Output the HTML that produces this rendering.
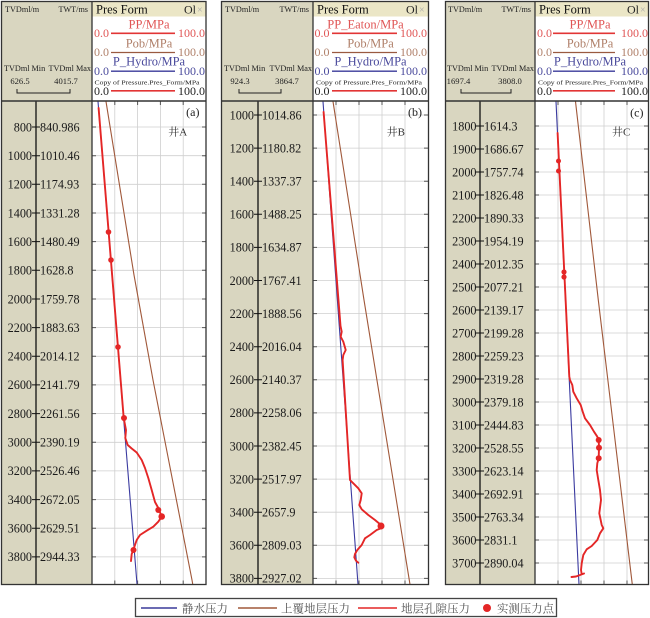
<!DOCTYPE html>
<html>
<head>
<meta charset="utf-8">
<style>
html,body{margin:0;padding:0;background:#fff;}
svg{display:block;}
.s{font-family:"Liberation Serif","Noto Serif CJK SC",serif;}
</style>
</head>
<body>
<svg width="650" height="618" viewBox="0 0 650 618" xmlns="http://www.w3.org/2000/svg" class="s">
<rect x="0" y="0" width="650" height="618" fill="#fff"/>

<!-- khaki left columns -->
<rect x="1.5" y="1.5" width="90.5" height="583" fill="#d9d6c0"/>
<rect x="221.5" y="1.5" width="91.5" height="583" fill="#d9d6c0"/>
<rect x="445.5" y="1.5" width="89.5" height="583" fill="#d9d6c0"/>

<!-- header strips -->
<rect x="92" y="1.5" width="114" height="15" fill="#ebe6c6"/>
<rect x="313" y="1.5" width="115" height="15" fill="#ebe6c6"/>
<rect x="535" y="1.5" width="113.5" height="15" fill="#ebe6c6"/>

<!-- ===== GRIDS ===== -->
<g stroke="#cfcfcf" stroke-width="0.8" fill="none">
<path d="M92,127H206M92,155.7H206M92,184.3H206M92,213H206M92,241.6H206M92,270.3H206M92,299H206M92,327.6H206M92,356.3H206M92,384.9H206M92,413.6H206M92,442.3H206M92,470.9H206M92,499.6H206M92,528.2H206M92,556.9H206"/>
<path d="M114.8,101V584.5M137.6,101V584.5M160.4,101V584.5M183.2,101V584.5"/>
<path d="M313,115H428M313,148.1H428M313,181.2H428M313,214.3H428M313,247.4H428M313,280.5H428M313,313.6H428M313,346.7H428M313,379.8H428M313,412.9H428M313,446H428M313,479.1H428M313,512.2H428M313,545.3H428M313,578.4H428"/>
<path d="M336,101V584.5M359,101V584.5M382,101V584.5M405,101V584.5"/>
<path d="M535,126H648M535,149H648M535,172H648M535,195H648M535,218H648M535,241H648M535,264H648M535,287H648M535,310H648M535,333H648M535,356H648M535,379H648M535,402H648M535,425H648M535,448H648M535,471H648M535,494H648M535,517H648M535,540H648M535,563H648"/>
<path d="M558,101V584.5M581,101V584.5M604,101V584.5M627,101V584.5"/>
</g>

<!-- plot edge ticks -->
<g stroke="#555" stroke-width="1" fill="none">
<path d="M92,127h4M92,155.7h4M92,184.3h4M92,213h4M92,241.6h4M92,270.3h4M92,299h4M92,327.6h4M92,356.3h4M92,384.9h4M92,413.6h4M92,442.3h4M92,470.9h4M92,499.6h4M92,528.2h4M92,556.9h4"/>
<path d="M206,127h-4M206,155.7h-4M206,184.3h-4M206,213h-4M206,241.6h-4M206,270.3h-4M206,299h-4M206,327.6h-4M206,356.3h-4M206,384.9h-4M206,413.6h-4M206,442.3h-4M206,470.9h-4M206,499.6h-4M206,528.2h-4M206,556.9h-4"/>
<path d="M114.8,101v4M137.6,101v4M160.4,101v4M183.2,101v4M114.8,584.5v-4M137.6,584.5v-4M160.4,584.5v-4M183.2,584.5v-4"/>
<path d="M313,115h4M313,148.1h4M313,181.2h4M313,214.3h4M313,247.4h4M313,280.5h4M313,313.6h4M313,346.7h4M313,379.8h4M313,412.9h4M313,446h4M313,479.1h4M313,512.2h4M313,545.3h4M313,578.4h4"/>
<path d="M428,115h-4M428,148.1h-4M428,181.2h-4M428,214.3h-4M428,247.4h-4M428,280.5h-4M428,313.6h-4M428,346.7h-4M428,379.8h-4M428,412.9h-4M428,446h-4M428,479.1h-4M428,512.2h-4M428,545.3h-4M428,578.4h-4"/>
<path d="M336,101v4M359,101v4M382,101v4M405,101v4M336,584.5v-4M359,584.5v-4M382,584.5v-4M405,584.5v-4"/>
<path d="M535,126h4M535,149h4M535,172h4M535,195h4M535,218h4M535,241h4M535,264h4M535,287h4M535,310h4M535,333h4M535,356h4M535,379h4M535,402h4M535,425h4M535,448h4M535,471h4M535,494h4M535,517h4M535,540h4M535,563h4"/>
<path d="M648,126h-4M648,149h-4M648,172h-4M648,195h-4M648,218h-4M648,241h-4M648,264h-4M648,287h-4M648,310h-4M648,333h-4M648,356h-4M648,379h-4M648,402h-4M648,425h-4M648,448h-4M648,471h-4M648,494h-4M648,517h-4M648,540h-4M648,563h-4"/>
<path d="M558,101v4M581,101v4M604,101v4M627,101v4M558,584.5v-4M581,584.5v-4M604,584.5v-4M627,584.5v-4"/>
</g>

<!-- ===== CURVES ===== -->
<g fill="none" stroke-linejoin="round" stroke-linecap="round">
<!-- A -->
<path d="M98,101.5L137,584" stroke="#3a3aa0" stroke-width="1.1"/>
<path d="M106,101.5L134,275L153,380L192,580L192.7,584" stroke="#a0583a" stroke-width="1.1"/>
<path d="M98.6,108L123.7,418L126,430L125.3,438L127.7,445L131.7,448.5L136.7,452.5L141.7,460L145,468L148.3,478L151.7,490L155,502L158.3,508L161.7,516.7L158.3,521.7L153.3,526.7L146.7,530.7L140,535L136.7,540L135,545L133.3,550L131.7,554L131,561" stroke="#e42626" stroke-width="1.9"/>
<!-- B -->
<path d="M323,101.5L358,584.5" stroke="#3a3aa0" stroke-width="1.1"/>
<path d="M333,101.5L364,300L410,584.5" stroke="#a0583a" stroke-width="1.1"/>
<path d="M323.6,112L340.5,326L341.7,331.7L340.7,336.7L343.3,341.7L345.7,350L343.3,355L342.6,360L350,480L353.3,483.3L358.3,488.3L361.7,493.3L360.7,500L359.3,505L361.7,509.3L368.3,515L375,520L381,525L381,528.3L376.7,530L370,535L365,538.3L361.7,545L357.3,550L355,554L354.3,557.3L356,560.7L358.3,562.7" stroke="#e42626" stroke-width="1.9"/>
<!-- C -->
<path d="M556,101.5L579,584.5" stroke="#3a3aa0" stroke-width="1.1"/>
<path d="M575.5,101.5L598.3,300L632.3,584.5" stroke="#a0583a" stroke-width="1.1"/>
<path d="M557.6,133L569.3,376.7L570,380L572.3,385L573.3,391.7L576.7,398.3L580.7,405L582.7,411.7L585,418.3L590,425L594,431.7L597.3,436.7L598.7,440L599,447.7L598.7,458.3L597.3,463.3L596.7,470L598.3,480L600,490L601,500L599.3,513.3L601.7,525L603.3,528.3L600,533.3L597.3,540L591.7,546L586.7,549.3L583.3,555L581.7,563.3L581,570L581.7,574M584,573.5L576,576.5L571.5,577" stroke="#e42626" stroke-width="1.9"/>
</g>

<!-- dots -->
<g fill="#e42626">
<circle cx="108.5" cy="232" r="2.8"/>
<circle cx="111" cy="260" r="2.8"/>
<circle cx="118" cy="347" r="2.8"/>
<circle cx="124" cy="418" r="3"/>
<circle cx="158.3" cy="510" r="3"/>
<circle cx="161.7" cy="516.5" r="3.3"/>
<circle cx="133.5" cy="550" r="3"/>
<circle cx="381" cy="526" r="3.5"/>
<circle cx="558.5" cy="161" r="2.5"/>
<circle cx="558.5" cy="171" r="2.5"/>
<circle cx="564" cy="272" r="2.6"/>
<circle cx="564" cy="277" r="2.6"/>
<circle cx="598.7" cy="440" r="3"/>
<circle cx="599" cy="447.7" r="3"/>
<circle cx="598.7" cy="458.3" r="3"/>
</g>

<!-- panel labels -->
<g font-size="12" fill="#222">
<text x="199.5" y="116" text-anchor="end">(a)</text>
<text x="422" y="116" text-anchor="end">(b)</text>
<text x="643.5" y="116.5" text-anchor="end">(c)</text>
</g>
<g font-size="11" fill="#333">
<text x="168.3" y="135.5">井A</text>
<text x="386.7" y="135.5">井B</text>
<text x="612" y="135.5">井C</text>
</g>

<!-- ===== LEFT AXES ===== -->
<g stroke="#111" fill="none">
<path d="M36,101V584.5M258,101V584.5M480,101V584.5" stroke-width="1.3"/>
<path stroke-width="1" d="M32,127h8M32,155.7h8M32,184.3h8M32,213h8M32,241.6h8M32,270.3h8M32,299h8M32,327.6h8M32,356.3h8M32,384.9h8M32,413.6h8M32,442.3h8M32,470.9h8M32,499.6h8M32,528.2h8M32,556.9h8
M254,115h8M254,148.1h8M254,181.2h8M254,214.3h8M254,247.4h8M254,280.5h8M254,313.6h8M254,346.7h8M254,379.8h8M254,412.9h8M254,446h8M254,479.1h8M254,512.2h8M254,545.3h8M254,578.4h8
M476,126h8M476,149h8M476,172h8M476,195h8M476,218h8M476,241h8M476,264h8M476,287h8M476,310h8M476,333h8M476,356h8M476,379h8M476,402h8M476,425h8M476,448h8M476,471h8M476,494h8M476,517h8M476,540h8M476,563h8"/>
</g>

<g font-size="12.2" fill="#1a1a1a" text-anchor="end">
<text x="32" y="131.3">800</text>
<text x="32" y="160">1000</text>
<text x="32" y="188.6">1200</text>
<text x="32" y="217.3">1400</text>
<text x="32" y="245.9">1600</text>
<text x="32" y="274.6">1800</text>
<text x="32" y="303.3">2000</text>
<text x="32" y="331.9">2200</text>
<text x="32" y="360.6">2400</text>
<text x="32" y="389.2">2600</text>
<text x="32" y="417.9">2800</text>
<text x="32" y="446.6">3000</text>
<text x="32" y="475.2">3200</text>
<text x="32" y="503.9">3400</text>
<text x="32" y="532.5">3600</text>
<text x="32" y="561.2">3800</text>

<text x="254" y="119.3">1000</text>
<text x="254" y="152.4">1200</text>
<text x="254" y="185.5">1400</text>
<text x="254" y="218.6">1600</text>
<text x="254" y="251.7">1800</text>
<text x="254" y="284.8">2000</text>
<text x="254" y="317.9">2200</text>
<text x="254" y="351">2400</text>
<text x="254" y="384.1">2600</text>
<text x="254" y="417.2">2800</text>
<text x="254" y="450.3">3000</text>
<text x="254" y="483.4">3200</text>
<text x="254" y="516.5">3400</text>
<text x="254" y="549.6">3600</text>
<text x="254" y="582.7">3800</text>

<text x="476.5" y="130.3">1800</text>
<text x="476.5" y="153.3">1900</text>
<text x="476.5" y="176.3">2000</text>
<text x="476.5" y="199.3">2100</text>
<text x="476.5" y="222.3">2200</text>
<text x="476.5" y="245.3">2300</text>
<text x="476.5" y="268.3">2400</text>
<text x="476.5" y="291.3">2500</text>
<text x="476.5" y="314.3">2600</text>
<text x="476.5" y="337.3">2700</text>
<text x="476.5" y="360.3">2800</text>
<text x="476.5" y="383.3">2900</text>
<text x="476.5" y="406.3">3000</text>
<text x="476.5" y="429.3">3100</text>
<text x="476.5" y="452.3">3200</text>
<text x="476.5" y="475.3">3300</text>
<text x="476.5" y="498.3">3400</text>
<text x="476.5" y="521.3">3500</text>
<text x="476.5" y="544.3">3600</text>
<text x="476.5" y="567.3">3700</text>
</g>

<g font-size="12.2" fill="#1a1a1a">
<text x="40" y="131.3">840.986</text>
<text x="40" y="160">1010.46</text>
<text x="40" y="188.6">1174.93</text>
<text x="40" y="217.3">1331.28</text>
<text x="40" y="245.9">1480.49</text>
<text x="40" y="274.6">1628.8</text>
<text x="40" y="303.3">1759.78</text>
<text x="40" y="331.9">1883.63</text>
<text x="40" y="360.6">2014.12</text>
<text x="40" y="389.2">2141.79</text>
<text x="40" y="417.9">2261.56</text>
<text x="40" y="446.6">2390.19</text>
<text x="40" y="475.2">2526.46</text>
<text x="40" y="503.9">2672.05</text>
<text x="40" y="532.5">2629.51</text>
<text x="40" y="561.2">2944.33</text>

<text x="262" y="119.3">1014.86</text>
<text x="262" y="152.4">1180.82</text>
<text x="262" y="185.5">1337.37</text>
<text x="262" y="218.6">1488.25</text>
<text x="262" y="251.7">1634.87</text>
<text x="262" y="284.8">1767.41</text>
<text x="262" y="317.9">1888.56</text>
<text x="262" y="351">2016.04</text>
<text x="262" y="384.1">2140.37</text>
<text x="262" y="417.2">2258.06</text>
<text x="262" y="450.3">2382.45</text>
<text x="262" y="483.4">2517.97</text>
<text x="262" y="516.5">2657.9</text>
<text x="262" y="549.6">2809.03</text>
<text x="262" y="582.7">2927.02</text>

<text x="484" y="130.3">1614.3</text>
<text x="484" y="153.3">1686.67</text>
<text x="484" y="176.3">1757.74</text>
<text x="484" y="199.3">1826.48</text>
<text x="484" y="222.3">1890.33</text>
<text x="484" y="245.3">1954.19</text>
<text x="484" y="268.3">2012.35</text>
<text x="484" y="291.3">2077.21</text>
<text x="484" y="314.3">2139.17</text>
<text x="484" y="337.3">2199.28</text>
<text x="484" y="360.3">2259.23</text>
<text x="484" y="383.3">2319.28</text>
<text x="484" y="406.3">2379.18</text>
<text x="484" y="429.3">2444.83</text>
<text x="484" y="452.3">2528.55</text>
<text x="484" y="475.3">2623.14</text>
<text x="484" y="498.3">2692.91</text>
<text x="484" y="521.3">2763.34</text>
<text x="484" y="544.3">2831.1</text>
<text x="484" y="567.3">2890.04</text>
</g>

<!-- ===== LEFT HEADERS ===== -->
<g font-size="8.2" fill="#222">
<text x="5" y="12">TVDml/m</text>
<text x="88" y="12" text-anchor="end">TWT/ms</text>
<text x="4" y="71">TVDml Min</text>
<text x="91" y="71" text-anchor="end">TVDml Max</text>

<text x="225" y="12">TVDml/m</text>
<text x="309" y="12" text-anchor="end">TWT/ms</text>
<text x="224" y="71">TVDml Min</text>
<text x="312" y="71" text-anchor="end">TVDml Max</text>

<text x="448" y="12">TVDml/m</text>
<text x="531" y="12" text-anchor="end">TWT/ms</text>
<text x="447" y="71">TVDml Min</text>
<text x="534" y="71" text-anchor="end">TVDml Max</text>
</g>
<g font-size="8.6" fill="#222" text-anchor="middle">
<text x="20" y="84">626.5</text>
<text x="66" y="84">4015.7</text>
<text x="240" y="84">924.3</text>
<text x="287" y="84">3864.7</text>
<text x="458.5" y="84">1697.4</text>
<text x="510" y="84">3808.0</text>
</g>
<g stroke="#222" stroke-width="1" fill="none">
<path d="M17,89V93H70V89"/>
<path d="M239,89V93H281V89"/>
<path d="M461,89V93H511V89"/>
</g>

<!-- ===== RIGHT HEADERS ===== -->
<!-- A -->
<g>
<text x="96" y="13.5" font-size="12.5" fill="#111">Pres Form</text>
<text x="184" y="13.5" font-size="12" fill="#222">Ol</text>
<text x="197" y="13" font-size="10" fill="#aaa">×</text>
<text x="149" y="28.5" font-size="12.5" fill="#e05555" text-anchor="middle">PP/MPa</text>
<text x="94" y="36.8" font-size="12" fill="#e05555">0.0</text>
<text x="205" y="36.8" font-size="12" fill="#e05555" text-anchor="end">100.0</text>
<path d="M111,33.3H175" stroke="#e23535" stroke-width="1.6"/>
<text x="149" y="47.3" font-size="12.5" fill="#b0806a" text-anchor="middle">Pob/MPa</text>
<text x="94" y="56.2" font-size="12" fill="#b0806a">0.0</text>
<text x="205" y="56.2" font-size="12" fill="#b0806a" text-anchor="end">100.0</text>
<path d="M111,52.5H175" stroke="#9a5a40" stroke-width="1.3"/>
<text x="149" y="65.5" font-size="12.5" fill="#4a4a9c" text-anchor="middle">P_Hydro/MPa</text>
<text x="94" y="75.2" font-size="12" fill="#4a4a9c">0.0</text>
<text x="205" y="75.2" font-size="12" fill="#4a4a9c" text-anchor="end">100.0</text>
<path d="M111,71.2H175" stroke="#3a3a9a" stroke-width="1.3"/>
<text x="94.5" y="84.5" font-size="6.5" fill="#222" textLength="105" lengthAdjust="spacingAndGlyphs">Copy of Pressure.Pres_Form/MPa</text>
<text x="94" y="95" font-size="12" fill="#222">0.0</text>
<text x="205" y="95" font-size="12" fill="#222" text-anchor="end">100.0</text>
<path d="M111,90.8H175" stroke="#e23535" stroke-width="1.6"/>
</g>
<!-- B -->
<g>
<text x="317" y="13.5" font-size="12.5" fill="#111">Pres Form</text>
<text x="406" y="13.5" font-size="12" fill="#222">Ol</text>
<text x="419" y="13" font-size="10" fill="#aaa">×</text>
<text x="365.5" y="28.5" font-size="12.5" fill="#e05555" text-anchor="middle">PP_Eaton/MPa</text>
<text x="314.5" y="36.8" font-size="12" fill="#e05555">0.0</text>
<text x="427" y="36.8" font-size="12" fill="#e05555" text-anchor="end">100.0</text>
<path d="M332,33.3H397" stroke="#e23535" stroke-width="1.6"/>
<text x="370.5" y="47.3" font-size="12.5" fill="#b0806a" text-anchor="middle">Pob/MPa</text>
<text x="314.5" y="56.2" font-size="12" fill="#b0806a">0.0</text>
<text x="427" y="56.2" font-size="12" fill="#b0806a" text-anchor="end">100.0</text>
<path d="M332,52.5H397" stroke="#9a5a40" stroke-width="1.3"/>
<text x="370.5" y="65.5" font-size="12.5" fill="#4a4a9c" text-anchor="middle">P_Hydro/MPa</text>
<text x="314.5" y="75.2" font-size="12" fill="#4a4a9c">0.0</text>
<text x="427" y="75.2" font-size="12" fill="#4a4a9c" text-anchor="end">100.0</text>
<path d="M332,71.2H397" stroke="#3a3a9a" stroke-width="1.3"/>
<text x="316" y="84.5" font-size="6.5" fill="#222" textLength="106" lengthAdjust="spacingAndGlyphs">Copy of Pressure.Pres_Form/MPa</text>
<text x="314.5" y="95" font-size="12" fill="#222">0.0</text>
<text x="427" y="95" font-size="12" fill="#222" text-anchor="end">100.0</text>
<path d="M332,90.8H397" stroke="#e23535" stroke-width="1.6"/>
</g>
<!-- C -->
<g>
<text x="539" y="13.5" font-size="12.5" fill="#111">Pres Form</text>
<text x="627" y="13.5" font-size="12" fill="#222">Ol</text>
<text x="640" y="13" font-size="10" fill="#aaa">×</text>
<text x="590" y="28.5" font-size="12.5" fill="#e05555" text-anchor="middle">PP/MPa</text>
<text x="537" y="36.8" font-size="12" fill="#e05555">0.0</text>
<text x="648" y="36.8" font-size="12" fill="#e05555" text-anchor="end">100.0</text>
<path d="M553,33.3H615" stroke="#e23535" stroke-width="1.6"/>
<text x="590" y="47.3" font-size="12.5" fill="#b0806a" text-anchor="middle">Pob/MPa</text>
<text x="537" y="56.2" font-size="12" fill="#b0806a">0.0</text>
<text x="648" y="56.2" font-size="12" fill="#b0806a" text-anchor="end">100.0</text>
<path d="M553,52.5H615" stroke="#9a5a40" stroke-width="1.3"/>
<text x="590" y="65.5" font-size="12.5" fill="#4a4a9c" text-anchor="middle">P_Hydro/MPa</text>
<text x="537" y="75.2" font-size="12" fill="#4a4a9c">0.0</text>
<text x="648" y="75.2" font-size="12" fill="#4a4a9c" text-anchor="end">100.0</text>
<path d="M553,71.2H615" stroke="#3a3a9a" stroke-width="1.3"/>
<text x="538" y="84.5" font-size="6.5" fill="#222" textLength="105" lengthAdjust="spacingAndGlyphs">Copy of Pressure.Pres_Form/MPa</text>
<text x="537" y="95" font-size="12" fill="#222">0.0</text>
<text x="648" y="95" font-size="12" fill="#222" text-anchor="end">100.0</text>
<path d="M553,90.8H615" stroke="#e23535" stroke-width="1.6"/>
</g>

<!-- ===== FRAME LINES ===== -->
<g stroke="#333" fill="none" stroke-width="1.3">
<path d="M1.5,101H206M221.5,101H428.5M445.5,101H648.5" stroke-width="1.5"/>
<path d="M92,1.5V584.5M313,1.5V584.5M535,1.5V584.5"/>
<rect x="1.5" y="1.5" width="204.5" height="583"/>
<rect x="221.5" y="1.5" width="207" height="583"/>
<rect x="445.5" y="1.5" width="203" height="583"/>
</g>

<!-- ===== LEGEND ===== -->
<rect x="135.5" y="598.5" width="421" height="18" fill="#fff" stroke="#444" stroke-width="1.3"/>
<g stroke-width="1.5">
<path d="M141,608H177" stroke="#3a3a9a"/>
<path d="M238,608H277" stroke="#a0583a"/>
<path d="M358,608H397" stroke="#e42626"/>
</g>
<circle cx="487" cy="608" r="4" fill="#e42626"/>
<g font-size="11.5" fill="#555" style="font-family:'Liberation Serif','Noto Serif CJK SC',serif">
<text x="182" y="612.3" textLength="46" lengthAdjust="spacingAndGlyphs">静水压力</text>
<text x="281" y="612.3" textLength="69" lengthAdjust="spacingAndGlyphs">上覆地层压力</text>
<text x="401" y="612.3" textLength="69" lengthAdjust="spacingAndGlyphs">地层孔隙压力</text>
<text x="497" y="612.3" textLength="57" lengthAdjust="spacingAndGlyphs">实测压力点</text>
</g>
</svg>
</body>
</html>
